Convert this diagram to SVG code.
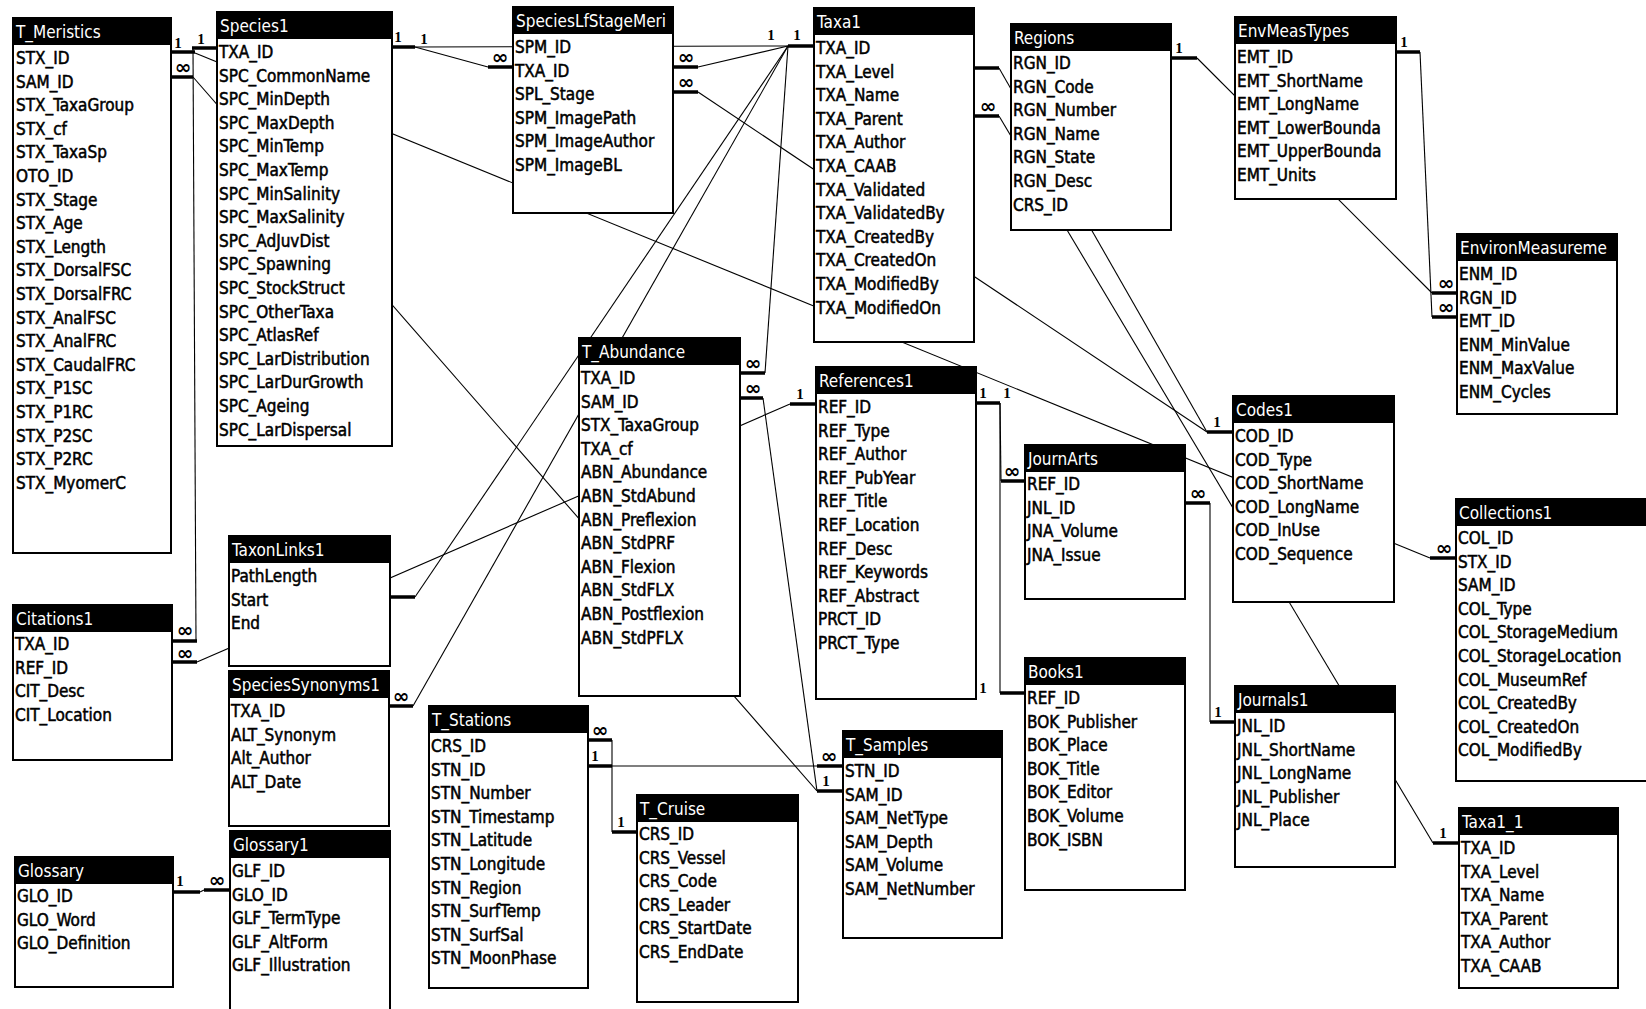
<svg xmlns="http://www.w3.org/2000/svg" width="1646" height="1009" viewBox="0 0 1646 1009">
<style>
  .box { fill: #fff; stroke: #000; stroke-width: 2; }
  .hdr { fill: #000; }
  .title { fill: #fff; font-family: "DejaVu Sans Condensed", "DejaVu Sans", sans-serif; font-size: 17px; }
  .fld { fill: #000; stroke: #000; stroke-width: 0.5; font-family: "DejaVu Sans Condensed", "DejaVu Sans", sans-serif; font-size: 17px; }
  .link { stroke: #000; stroke-width: 1.1; fill: none; }
  .bar { stroke: #000; stroke-width: 3.5; }
  .one { fill: #000; font-family: "Liberation Serif", serif; font-weight: bold; font-size: 15px; text-anchor: middle; }
  .many { fill: #000; font-family: "DejaVu Sans", sans-serif; font-weight: bold; font-size: 20px; text-anchor: middle; }
</style>
<rect width="1646" height="1009" fill="#fff"/>

<!-- relationship lines, end bars and cardinality marks -->
<g id="connectors">
  <line class="link" x1="195" y1="53" x2="1430" y2="558"/>
  <line class="link" x1="193" y1="77" x2="817" y2="791"/>
  <line class="link" x1="193" y1="48" x2="196" y2="641"/>
  <line class="link" x1="415" y1="47" x2="788" y2="46"/>
  <line class="link" x1="415" y1="47" x2="488" y2="67"/>
  <line class="link" x1="698" y1="67" x2="788" y2="46"/>
  <line class="link" x1="698" y1="92" x2="1207" y2="432"/>
  <line class="link" x1="788" y1="46" x2="415" y2="597"/>
  <line class="link" x1="788" y1="46" x2="413" y2="706"/>
  <line class="link" x1="788" y1="46" x2="765" y2="373"/>
  <line class="link" x1="763" y1="398" x2="817" y2="791"/>
  <line class="link" x1="197" y1="662" x2="790" y2="404"/>
  <line class="link" x1="999" y1="68" x2="1207" y2="432"/>
  <line class="link" x1="999" y1="116" x2="1433" y2="843"/>
  <line class="link" x1="1197" y1="58" x2="1432" y2="293"/>
  <line class="link" x1="1420" y1="52" x2="1432" y2="317"/>
  <line class="link" x1="1000" y1="403" x2="1001" y2="481"/>
  <line class="link" x1="1000" y1="403" x2="1000" y2="693"/>
  <line class="link" x1="1210" y1="503" x2="1210" y2="722"/>
  <line class="link" x1="612" y1="740" x2="612" y2="832"/>
  <line class="link" x1="612" y1="766" x2="817" y2="766"/>
  <line class="link" x1="200" y1="892" x2="204" y2="890"/>

  <!-- end bars -->
  <line class="bar" x1="171" y1="52" x2="195" y2="52"/>
  <line class="bar" x1="171" y1="77" x2="193" y2="77"/>
  <line class="bar" x1="192" y1="48" x2="217" y2="48"/>
  <line class="bar" x1="392" y1="47" x2="415" y2="47"/>
  <line class="bar" x1="488" y1="67" x2="513" y2="67"/>
  <line class="bar" x1="673" y1="67" x2="698" y2="67"/>
  <line class="bar" x1="673" y1="92" x2="698" y2="92"/>
  <line class="bar" x1="788" y1="46" x2="814" y2="46"/>
  <line class="bar" x1="974" y1="68" x2="999" y2="68"/>
  <line class="bar" x1="974" y1="116" x2="999" y2="116"/>
  <line class="bar" x1="1171" y1="58" x2="1197" y2="58"/>
  <line class="bar" x1="1396" y1="52" x2="1420" y2="52"/>
  <line class="bar" x1="1432" y1="293" x2="1457" y2="293"/>
  <line class="bar" x1="1432" y1="317" x2="1457" y2="317"/>
  <line class="bar" x1="1207" y1="432" x2="1233" y2="432"/>
  <line class="bar" x1="1430" y1="558" x2="1456" y2="558"/>
  <line class="bar" x1="1433" y1="843" x2="1459" y2="843"/>
  <line class="bar" x1="1210" y1="722" x2="1235" y2="722"/>
  <line class="bar" x1="1185" y1="503" x2="1210" y2="503"/>
  <line class="bar" x1="1001" y1="481" x2="1025" y2="481"/>
  <line class="bar" x1="976" y1="403" x2="1000" y2="403"/>
  <line class="bar" x1="790" y1="404" x2="816" y2="404"/>
  <line class="bar" x1="1000" y1="693" x2="1025" y2="693"/>
  <line class="bar" x1="740" y1="373" x2="765" y2="373"/>
  <line class="bar" x1="740" y1="398" x2="763" y2="398"/>
  <line class="bar" x1="817" y1="766" x2="843" y2="766"/>
  <line class="bar" x1="817" y1="791" x2="843" y2="791"/>
  <line class="bar" x1="588" y1="740" x2="612" y2="740"/>
  <line class="bar" x1="588" y1="766" x2="612" y2="766"/>
  <line class="bar" x1="612" y1="832" x2="637" y2="832"/>
  <line class="bar" x1="172" y1="641" x2="197" y2="641"/>
  <line class="bar" x1="172" y1="662" x2="197" y2="662"/>
  <line class="bar" x1="390" y1="597" x2="415" y2="597"/>
  <line class="bar" x1="389" y1="706" x2="413" y2="706"/>
  <line class="bar" x1="173" y1="892" x2="200" y2="892"/>
  <line class="bar" x1="204" y1="890" x2="230" y2="890"/>

  <!-- "one" marks -->
  <text class="one" x="178" y="48">1</text>
  <text class="one" x="201" y="44">1</text>
  <text class="one" x="398" y="42">1</text>
  <text class="one" x="424" y="44">1</text>
  <text class="one" x="771" y="40">1</text>
  <text class="one" x="797" y="40">1</text>
  <text class="one" x="1179" y="53">1</text>
  <text class="one" x="1404" y="47">1</text>
  <text class="one" x="1217" y="427">1</text>
  <text class="one" x="1443" y="838">1</text>
  <text class="one" x="1218" y="717">1</text>
  <text class="one" x="983" y="398">1</text>
  <text class="one" x="1007" y="398">1</text>
  <text class="one" x="800" y="399">1</text>
  <text class="one" x="983" y="693">1</text>
  <text class="one" x="826" y="786">1</text>
  <text class="one" x="595" y="761">1</text>
  <text class="one" x="621" y="827">1</text>
  <text class="one" x="180" y="886">1</text>

  <!-- "many" marks -->
  <text class="many" x="183" y="74">∞</text>
  <text class="many" x="500" y="64">∞</text>
  <text class="many" x="686" y="64">∞</text>
  <text class="many" x="686" y="89">∞</text>
  <text class="many" x="988" y="113">∞</text>
  <text class="many" x="1446" y="290">∞</text>
  <text class="many" x="1446" y="314">∞</text>
  <text class="many" x="1444" y="555">∞</text>
  <text class="many" x="1198" y="500">∞</text>
  <text class="many" x="1012" y="478">∞</text>
  <text class="many" x="753" y="370">∞</text>
  <text class="many" x="753" y="395">∞</text>
  <text class="many" x="829" y="763">∞</text>
  <text class="many" x="600" y="737">∞</text>
  <text class="many" x="185" y="637">∞</text>
  <text class="many" x="185" y="660">∞</text>
  <text class="many" x="401" y="703">∞</text>
  <text class="many" x="217" y="887">∞</text>
</g>

<!-- tables -->
<g id="T_Meristics">
  <rect class="box" x="13" y="18" width="158" height="535"/>
  <rect class="hdr" x="13" y="18" width="158" height="27"/>
  <text class="title" x="16" y="38">T_Meristics</text>
  <text class="fld" y="64"><tspan x="16">STX_ID</tspan><tspan x="16" dy="23.6">SAM_ID</tspan><tspan x="16" dy="23.6">STX_TaxaGroup</tspan><tspan x="16" dy="23.6">STX_cf</tspan><tspan x="16" dy="23.6">STX_TaxaSp</tspan><tspan x="16" dy="23.6">OTO_ID</tspan><tspan x="16" dy="23.6">STX_Stage</tspan><tspan x="16" dy="23.6">STX_Age</tspan><tspan x="16" dy="23.6">STX_Length</tspan><tspan x="16" dy="23.6">STX_DorsalFSC</tspan><tspan x="16" dy="23.6">STX_DorsalFRC</tspan><tspan x="16" dy="23.6">STX_AnalFSC</tspan><tspan x="16" dy="23.6">STX_AnalFRC</tspan><tspan x="16" dy="23.6">STX_CaudalFRC</tspan><tspan x="16" dy="23.6">STX_P1SC</tspan><tspan x="16" dy="23.6">STX_P1RC</tspan><tspan x="16" dy="23.6">STX_P2SC</tspan><tspan x="16" dy="23.6">STX_P2RC</tspan><tspan x="16" dy="23.6">STX_MyomerC</tspan></text>
</g>

<g id="Species1">
  <rect class="box" x="217" y="12" width="175" height="434"/>
  <rect class="hdr" x="217" y="12" width="175" height="27"/>
  <text class="title" x="220" y="32">Species1</text>
  <text class="fld" y="58"><tspan x="219">TXA_ID</tspan><tspan x="219" dy="23.6">SPC_CommonName</tspan><tspan x="219" dy="23.6">SPC_MinDepth</tspan><tspan x="219" dy="23.6">SPC_MaxDepth</tspan><tspan x="219" dy="23.6">SPC_MinTemp</tspan><tspan x="219" dy="23.6">SPC_MaxTemp</tspan><tspan x="219" dy="23.6">SPC_MinSalinity</tspan><tspan x="219" dy="23.6">SPC_MaxSalinity</tspan><tspan x="219" dy="23.6">SPC_AdJuvDist</tspan><tspan x="219" dy="23.6">SPC_Spawning</tspan><tspan x="219" dy="23.6">SPC_StockStruct</tspan><tspan x="219" dy="23.6">SPC_OtherTaxa</tspan><tspan x="219" dy="23.6">SPC_AtlasRef</tspan><tspan x="219" dy="23.6">SPC_LarDistribution</tspan><tspan x="219" dy="23.6">SPC_LarDurGrowth</tspan><tspan x="219" dy="23.6">SPC_Ageing</tspan><tspan x="219" dy="23.6">SPC_LarDispersal</tspan></text>
</g>

<g id="SpeciesLfStageMeri">
  <rect class="box" x="513" y="7" width="160" height="206"/>
  <rect class="hdr" x="513" y="7" width="160" height="27"/>
  <text class="title" x="516" y="27">SpeciesLfStageMeri</text>
  <text class="fld" y="53"><tspan x="515">SPM_ID</tspan><tspan x="515" dy="23.6">TXA_ID</tspan><tspan x="515" dy="23.6">SPL_Stage</tspan><tspan x="515" dy="23.6">SPM_ImagePath</tspan><tspan x="515" dy="23.6">SPM_ImageAuthor</tspan><tspan x="515" dy="23.6">SPM_ImageBL</tspan></text>
</g>

<g id="Taxa1">
  <rect class="box" x="814" y="8" width="160" height="334"/>
  <rect class="hdr" x="814" y="8" width="160" height="27"/>
  <text class="title" x="817" y="28">Taxa1</text>
  <text class="fld" y="54"><tspan x="816">TXA_ID</tspan><tspan x="816" dy="23.6">TXA_Level</tspan><tspan x="816" dy="23.6">TXA_Name</tspan><tspan x="816" dy="23.6">TXA_Parent</tspan><tspan x="816" dy="23.6">TXA_Author</tspan><tspan x="816" dy="23.6">TXA_CAAB</tspan><tspan x="816" dy="23.6">TXA_Validated</tspan><tspan x="816" dy="23.6">TXA_ValidatedBy</tspan><tspan x="816" dy="23.6">TXA_CreatedBy</tspan><tspan x="816" dy="23.6">TXA_CreatedOn</tspan><tspan x="816" dy="23.6">TXA_ModifiedBy</tspan><tspan x="816" dy="23.6">TXA_ModifiedOn</tspan></text>
</g>

<g id="Regions">
  <rect class="box" x="1011" y="24" width="160" height="206"/>
  <rect class="hdr" x="1011" y="24" width="160" height="27"/>
  <text class="title" x="1014" y="44">Regions</text>
  <text class="fld" y="69"><tspan x="1013">RGN_ID</tspan><tspan x="1013" dy="23.6">RGN_Code</tspan><tspan x="1013" dy="23.6">RGN_Number</tspan><tspan x="1013" dy="23.6">RGN_Name</tspan><tspan x="1013" dy="23.6">RGN_State</tspan><tspan x="1013" dy="23.6">RGN_Desc</tspan><tspan x="1013" dy="23.6">CRS_ID</tspan></text>
</g>

<g id="EnvMeasTypes">
  <rect class="box" x="1235" y="17" width="161" height="182"/>
  <rect class="hdr" x="1235" y="17" width="161" height="27"/>
  <text class="title" x="1238" y="37">EnvMeasTypes</text>
  <text class="fld" y="63"><tspan x="1237">EMT_ID</tspan><tspan x="1237" dy="23.6">EMT_ShortName</tspan><tspan x="1237" dy="23.6">EMT_LongName</tspan><tspan x="1237" dy="23.6">EMT_LowerBounda</tspan><tspan x="1237" dy="23.6">EMT_UpperBounda</tspan><tspan x="1237" dy="23.6">EMT_Units</tspan></text>
</g>

<g id="EnvironMeasureme">
  <rect class="box" x="1457" y="234" width="160" height="180"/>
  <rect class="hdr" x="1457" y="234" width="160" height="27"/>
  <text class="title" x="1460" y="254">EnvironMeasureme</text>
  <text class="fld" y="280"><tspan x="1459">ENM_ID</tspan><tspan x="1459" dy="23.6">RGN_ID</tspan><tspan x="1459" dy="23.6">EMT_ID</tspan><tspan x="1459" dy="23.6">ENM_MinValue</tspan><tspan x="1459" dy="23.6">ENM_MaxValue</tspan><tspan x="1459" dy="23.6">ENM_Cycles</tspan></text>
</g>

<g id="Codes1">
  <rect class="box" x="1233" y="396" width="161" height="206"/>
  <rect class="hdr" x="1233" y="396" width="161" height="27"/>
  <text class="title" x="1236" y="416">Codes1</text>
  <text class="fld" y="442"><tspan x="1235">COD_ID</tspan><tspan x="1235" dy="23.6">COD_Type</tspan><tspan x="1235" dy="23.6">COD_ShortName</tspan><tspan x="1235" dy="23.6">COD_LongName</tspan><tspan x="1235" dy="23.6">COD_InUse</tspan><tspan x="1235" dy="23.6">COD_Sequence</tspan></text>
</g>

<g id="Collections1">
  <rect class="box" x="1456" y="499" width="196" height="282"/>
  <rect class="hdr" x="1456" y="499" width="196" height="27"/>
  <text class="title" x="1459" y="519">Collections1</text>
  <text class="fld" y="544"><tspan x="1458">COL_ID</tspan><tspan x="1458" dy="23.6">STX_ID</tspan><tspan x="1458" dy="23.6">SAM_ID</tspan><tspan x="1458" dy="23.6">COL_Type</tspan><tspan x="1458" dy="23.6">COL_StorageMedium</tspan><tspan x="1458" dy="23.6">COL_StorageLocation</tspan><tspan x="1458" dy="23.6">COL_MuseumRef</tspan><tspan x="1458" dy="23.6">COL_CreatedBy</tspan><tspan x="1458" dy="23.6">COL_CreatedOn</tspan><tspan x="1458" dy="23.6">COL_ModifiedBy</tspan></text>
</g>

<g id="Journals1">
  <rect class="box" x="1235" y="686" width="160" height="181"/>
  <rect class="hdr" x="1235" y="686" width="160" height="27"/>
  <text class="title" x="1238" y="706">Journals1</text>
  <text class="fld" y="732"><tspan x="1237">JNL_ID</tspan><tspan x="1237" dy="23.6">JNL_ShortName</tspan><tspan x="1237" dy="23.6">JNL_LongName</tspan><tspan x="1237" dy="23.6">JNL_Publisher</tspan><tspan x="1237" dy="23.6">JNL_Place</tspan></text>
</g>

<g id="Taxa1_1">
  <rect class="box" x="1459" y="808" width="159" height="180"/>
  <rect class="hdr" x="1459" y="808" width="159" height="27"/>
  <text class="title" x="1462" y="828">Taxa1_1</text>
  <text class="fld" y="854"><tspan x="1461">TXA_ID</tspan><tspan x="1461" dy="23.6">TXA_Level</tspan><tspan x="1461" dy="23.6">TXA_Name</tspan><tspan x="1461" dy="23.6">TXA_Parent</tspan><tspan x="1461" dy="23.6">TXA_Author</tspan><tspan x="1461" dy="23.6">TXA_CAAB</tspan></text>
</g>

<g id="JournArts">
  <rect class="box" x="1025" y="445" width="160" height="154"/>
  <rect class="hdr" x="1025" y="445" width="160" height="27"/>
  <text class="title" x="1028" y="465">JournArts</text>
  <text class="fld" y="490"><tspan x="1027">REF_ID</tspan><tspan x="1027" dy="23.6">JNL_ID</tspan><tspan x="1027" dy="23.6">JNA_Volume</tspan><tspan x="1027" dy="23.6">JNA_Issue</tspan></text>
</g>

<g id="References1">
  <rect class="box" x="816" y="367" width="160" height="332"/>
  <rect class="hdr" x="816" y="367" width="160" height="27"/>
  <text class="title" x="819" y="387">References1</text>
  <text class="fld" y="413"><tspan x="818">REF_ID</tspan><tspan x="818" dy="23.6">REF_Type</tspan><tspan x="818" dy="23.6">REF_Author</tspan><tspan x="818" dy="23.6">REF_PubYear</tspan><tspan x="818" dy="23.6">REF_Title</tspan><tspan x="818" dy="23.6">REF_Location</tspan><tspan x="818" dy="23.6">REF_Desc</tspan><tspan x="818" dy="23.6">REF_Keywords</tspan><tspan x="818" dy="23.6">REF_Abstract</tspan><tspan x="818" dy="23.6">PRCT_ID</tspan><tspan x="818" dy="23.6">PRCT_Type</tspan></text>
</g>

<g id="Books1">
  <rect class="box" x="1025" y="658" width="160" height="232"/>
  <rect class="hdr" x="1025" y="658" width="160" height="27"/>
  <text class="title" x="1028" y="678">Books1</text>
  <text class="fld" y="704"><tspan x="1027">REF_ID</tspan><tspan x="1027" dy="23.6">BOK_Publisher</tspan><tspan x="1027" dy="23.6">BOK_Place</tspan><tspan x="1027" dy="23.6">BOK_Title</tspan><tspan x="1027" dy="23.6">BOK_Editor</tspan><tspan x="1027" dy="23.6">BOK_Volume</tspan><tspan x="1027" dy="23.6">BOK_ISBN</tspan></text>
</g>

<g id="T_Samples">
  <rect class="box" x="843" y="731" width="159" height="207"/>
  <rect class="hdr" x="843" y="731" width="159" height="27"/>
  <text class="title" x="846" y="751">T_Samples</text>
  <text class="fld" y="777"><tspan x="845">STN_ID</tspan><tspan x="845" dy="23.6">SAM_ID</tspan><tspan x="845" dy="23.6">SAM_NetType</tspan><tspan x="845" dy="23.6">SAM_Depth</tspan><tspan x="845" dy="23.6">SAM_Volume</tspan><tspan x="845" dy="23.6">SAM_NetNumber</tspan></text>
</g>

<g id="T_Cruise">
  <rect class="box" x="637" y="795" width="161" height="207"/>
  <rect class="hdr" x="637" y="795" width="161" height="27"/>
  <text class="title" x="640" y="815">T_Cruise</text>
  <text class="fld" y="840"><tspan x="639">CRS_ID</tspan><tspan x="639" dy="23.6">CRS_Vessel</tspan><tspan x="639" dy="23.6">CRS_Code</tspan><tspan x="639" dy="23.6">CRS_Leader</tspan><tspan x="639" dy="23.6">CRS_StartDate</tspan><tspan x="639" dy="23.6">CRS_EndDate</tspan></text>
</g>

<g id="T_Stations">
  <rect class="box" x="429" y="706" width="159" height="282"/>
  <rect class="hdr" x="429" y="706" width="159" height="27"/>
  <text class="title" x="432" y="726">T_Stations</text>
  <text class="fld" y="752"><tspan x="431">CRS_ID</tspan><tspan x="431" dy="23.6">STN_ID</tspan><tspan x="431" dy="23.6">STN_Number</tspan><tspan x="431" dy="23.6">STN_Timestamp</tspan><tspan x="431" dy="23.6">STN_Latitude</tspan><tspan x="431" dy="23.6">STN_Longitude</tspan><tspan x="431" dy="23.6">STN_Region</tspan><tspan x="431" dy="23.6">STN_SurfTemp</tspan><tspan x="431" dy="23.6">STN_SurfSal</tspan><tspan x="431" dy="23.6">STN_MoonPhase</tspan></text>
</g>

<g id="T_Abundance">
  <rect class="box" x="579" y="338" width="161" height="358"/>
  <rect class="hdr" x="579" y="338" width="161" height="27"/>
  <text class="title" x="582" y="358">T_Abundance</text>
  <text class="fld" y="384"><tspan x="581">TXA_ID</tspan><tspan x="581" dy="23.6">SAM_ID</tspan><tspan x="581" dy="23.6">STX_TaxaGroup</tspan><tspan x="581" dy="23.6">TXA_cf</tspan><tspan x="581" dy="23.6">ABN_Abundance</tspan><tspan x="581" dy="23.6">ABN_StdAbund</tspan><tspan x="581" dy="23.6">ABN_Preflexion</tspan><tspan x="581" dy="23.6">ABN_StdPRF</tspan><tspan x="581" dy="23.6">ABN_Flexion</tspan><tspan x="581" dy="23.6">ABN_StdFLX</tspan><tspan x="581" dy="23.6">ABN_Postflexion</tspan><tspan x="581" dy="23.6">ABN_StdPFLX</tspan></text>
</g>

<g id="TaxonLinks1">
  <rect class="box" x="229" y="536" width="161" height="130"/>
  <rect class="hdr" x="229" y="536" width="161" height="27"/>
  <text class="title" x="232" y="556">TaxonLinks1</text>
  <text class="fld" y="582"><tspan x="231">PathLength</tspan><tspan x="231" dy="23.6">Start</tspan><tspan x="231" dy="23.6">End</tspan></text>
</g>

<g id="Citations1">
  <rect class="box" x="13" y="605" width="159" height="155"/>
  <rect class="hdr" x="13" y="605" width="159" height="27"/>
  <text class="title" x="16" y="625">Citations1</text>
  <text class="fld" y="650"><tspan x="15">TXA_ID</tspan><tspan x="15" dy="23.6">REF_ID</tspan><tspan x="15" dy="23.6">CIT_Desc</tspan><tspan x="15" dy="23.6">CIT_Location</tspan></text>
</g>

<g id="SpeciesSynonyms1">
  <rect class="box" x="229" y="671" width="160" height="155"/>
  <rect class="hdr" x="229" y="671" width="160" height="27"/>
  <text class="title" x="232" y="691">SpeciesSynonyms1</text>
  <text class="fld" y="717"><tspan x="231">TXA_ID</tspan><tspan x="231" dy="23.6">ALT_Synonym</tspan><tspan x="231" dy="23.6">Alt_Author</tspan><tspan x="231" dy="23.6">ALT_Date</tspan></text>
</g>

<g id="Glossary">
  <rect class="box" x="15" y="857" width="158" height="130"/>
  <rect class="hdr" x="15" y="857" width="158" height="27"/>
  <text class="title" x="18" y="877">Glossary</text>
  <text class="fld" y="902"><tspan x="17">GLO_ID</tspan><tspan x="17" dy="23.6">GLO_Word</tspan><tspan x="17" dy="23.6">GLO_Definition</tspan></text>
</g>

<g id="Glossary1">
  <rect class="box" x="230" y="831" width="160" height="200"/>
  <rect class="hdr" x="230" y="831" width="160" height="27"/>
  <text class="title" x="233" y="851">Glossary1</text>
  <text class="fld" y="877"><tspan x="232">GLF_ID</tspan><tspan x="232" dy="23.6">GLO_ID</tspan><tspan x="232" dy="23.6">GLF_TermType</tspan><tspan x="232" dy="23.6">GLF_AltForm</tspan><tspan x="232" dy="23.6">GLF_Illustration</tspan></text>
</g>
</svg>
